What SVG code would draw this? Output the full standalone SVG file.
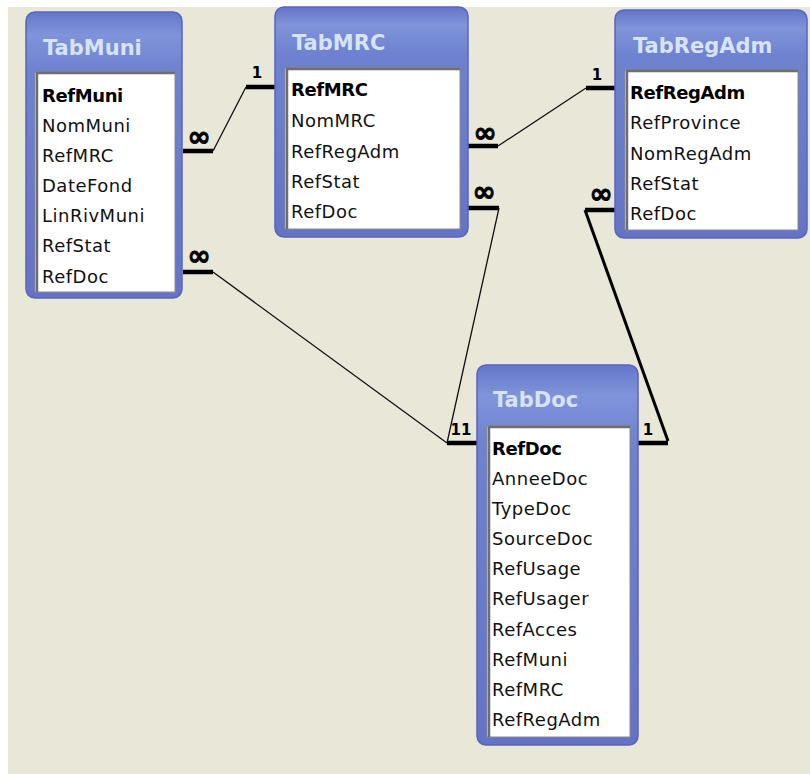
<svg xmlns="http://www.w3.org/2000/svg" width="810" height="774" viewBox="0 0 810 774">
<style>
.tt{font-family:"DejaVu Sans",Verdana,sans-serif;font-weight:bold;font-size:21px;fill:#D7E3F7}
.f{font-family:"DejaVu Sans",Verdana,sans-serif;font-size:18px;fill:#111;letter-spacing:0.5px}
.pk{font-weight:bold;letter-spacing:-0.4px;fill:#000}
.frame{fill:url(#hdr);stroke:#5866BA;stroke-width:1.5}
.panel{fill:#fff;stroke:#8A8A8A;stroke-width:1}
.inset{fill:none;stroke:#6E6E6E;stroke-width:2.5}
.stub{stroke:#000;stroke-width:4.5;fill:none}
.thin{stroke:#111;stroke-width:1.3;fill:none}
.thick{stroke:#000;stroke-width:3;fill:none}
.inf{font-family:"DejaVu Sans",sans-serif;font-weight:bold;font-size:28px;fill:#000;stroke:#000;stroke-width:0.8;text-anchor:middle}
.one{font-family:"DejaVu Sans",sans-serif;font-weight:bold;font-size:15px;fill:#000;text-anchor:middle}
</style>
<defs>
<linearGradient id="hdr" x1="0" y1="0" x2="0" y2="1" gradientUnits="objectBoundingBox">
<stop offset="0" stop-color="#6575C8"/>
<stop offset="0.08" stop-color="#7F94DA"/>
<stop offset="0.2" stop-color="#6E82D0"/>
<stop offset="1" stop-color="#6573C6"/>
</linearGradient>
</defs>
<rect x="0" y="0" width="810" height="774" fill="#ffffff"/>
<rect x="8" y="7" width="802" height="767" fill="#E9E7D7"/>

<g id="connectors">
<path class="stub" d="M183,151H213M246,87H276"/>
<path class="thin" d="M213,151L246,87"/>
<path class="stub" d="M468,146H498M586,88H615"/>
<path class="thin" d="M498,146L586,88"/>
<path class="stub" d="M183,272H213"/>
<path class="thin" d="M213,272L447,443"/>
<path class="stub" d="M468,208H499M447,443H477"/>
<path class="thin" d="M499,208L447,443"/>
<path class="stub" d="M585,210H615M638,443H668"/>
<path class="thick" d="M585,210L668,441"/>
<text class="inf" x="199" y="146">∞</text>
<text class="one" x="257" y="78">1</text>
<text class="inf" x="485" y="142">∞</text>
<text class="one" x="597" y="80">1</text>
<text class="inf" x="199" y="265">∞</text>
<text class="inf" x="484" y="201">∞</text>
<text class="inf" x="601" y="203">∞</text>
<text class="one" x="461" y="435">11</text>
<text class="one" x="648" y="435">1</text>
</g>

<g id="TabMuni">
<rect class="frame" x="26" y="12" width="156" height="286" rx="9"/>
<text class="tt" x="43" y="55">TabMuni</text>
<rect class="panel" x="35" y="72" width="140" height="220"/>
<path class="inset" d="M37,292V73H175"/>
<text class="f pk" x="42" y="102">RefMuni</text>
<text class="f" x="42" y="132">NomMuni</text>
<text class="f" x="42" y="162">RefMRC</text>
<text class="f" x="42" y="192">DateFond</text>
<text class="f" x="42" y="222">LinRivMuni</text>
<text class="f" x="42" y="252">RefStat</text>
<text class="f" x="42" y="283">RefDoc</text>
</g>

<g id="TabMRC">
<rect class="frame" x="275" y="7" width="193" height="230" rx="9"/>
<text class="tt" x="292" y="50">TabMRC</text>
<rect class="panel" x="285" y="68" width="175" height="161"/>
<path class="inset" d="M287,229V69H460"/>
<text class="f pk" x="291" y="96">RefMRC</text>
<text class="f" x="291" y="127">NomMRC</text>
<text class="f" x="291" y="158">RefRegAdm</text>
<text class="f" x="291" y="188">RefStat</text>
<text class="f" x="291" y="218">RefDoc</text>
</g>

<g id="TabRegAdm">
<rect class="frame" x="615" y="10" width="192" height="228" rx="9"/>
<text class="tt" x="633" y="53">TabRegAdm</text>
<rect class="panel" x="625" y="70" width="173" height="160"/>
<path class="inset" d="M627,230V71H798"/>
<text class="f pk" x="630" y="99">RefRegAdm</text>
<text class="f" x="630" y="129">RefProvince</text>
<text class="f" x="630" y="160">NomRegAdm</text>
<text class="f" x="630" y="190">RefStat</text>
<text class="f" x="630" y="220">RefDoc</text>
</g>

<g id="TabDoc">
<rect class="frame" x="477" y="365" width="161" height="380" rx="9"/>
<text class="tt" x="493" y="407">TabDoc</text>
<rect class="panel" x="487" y="426" width="143" height="311"/>
<path class="inset" d="M489,737V427H630"/>
<text class="f pk" x="492" y="455">RefDoc</text>
<text class="f" x="492" y="485">AnneeDoc</text>
<text class="f" x="492" y="515">TypeDoc</text>
<text class="f" x="492" y="545">SourceDoc</text>
<text class="f" x="492" y="575">RefUsage</text>
<text class="f" x="492" y="605">RefUsager</text>
<text class="f" x="492" y="636">RefAcces</text>
<text class="f" x="492" y="666">RefMuni</text>
<text class="f" x="492" y="696">RefMRC</text>
<text class="f" x="492" y="726">RefRegAdm</text>
</g>
</svg>
